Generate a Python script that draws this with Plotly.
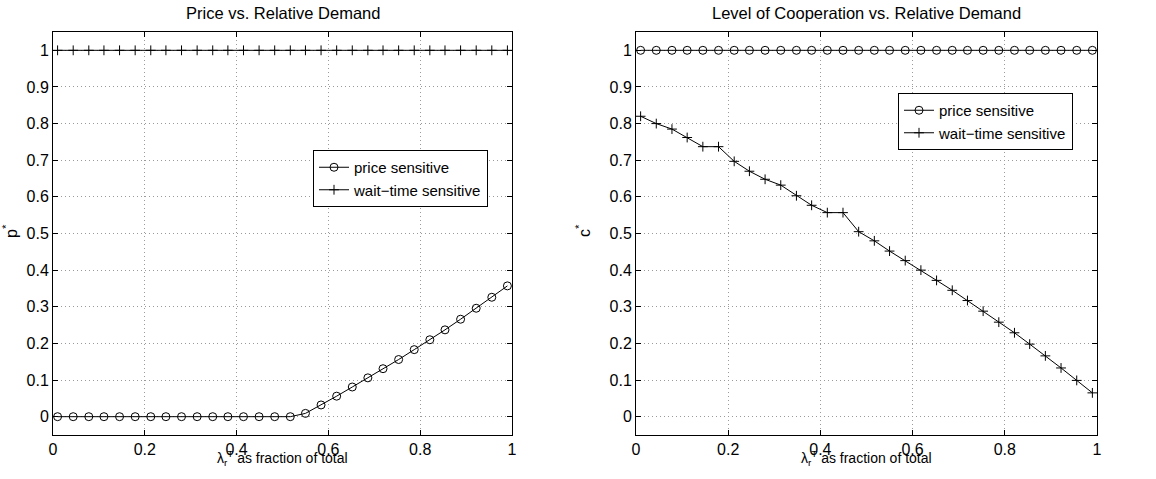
import plotly.graph_objects as go

# ---- data ----
x_frac = [0.010, 0.044, 0.078, 0.111, 0.145, 0.179, 0.213, 0.246, 0.280, 0.314,
          0.348, 0.381, 0.415, 0.449, 0.483, 0.517, 0.550, 0.584, 0.618, 0.652,
          0.686, 0.719, 0.753, 0.787, 0.821, 0.854, 0.888, 0.922, 0.956, 0.990]

p_price = [0, 0, 0, 0, 0, 0, 0, 0, 0, 0,
           0, 0, 0, 0, 0, 0, 0.009, 0.032, 0.056, 0.081,
           0.106, 0.131, 0.156, 0.183, 0.210, 0.237, 0.266, 0.296, 0.326, 0.357]
p_wait = [1.0] * 30

c_price = [1.0] * 30
c_wait = [0.820, 0.800, 0.785, 0.762, 0.737, 0.737, 0.697, 0.670, 0.648, 0.632,
          0.603, 0.577, 0.557, 0.557, 0.505, 0.480, 0.452, 0.426, 0.400, 0.372,
          0.345, 0.317, 0.288, 0.258, 0.229, 0.198, 0.166, 0.133, 0.099, 0.065]

series_names = ["price sensitive", "wait\u2212time sensitive"]
titles = ["Price vs. Relative Demand", "Level of Cooperation vs. Relative Demand"]
ylabels = ["p<sup>*</sup>", "c<sup>*</sup>"]
xlabel = "\u03bb<sub>r</sub><sup>T</sup> as fraction of total"
x_ticks = [0, 0.2, 0.4, 0.6, 0.8, 1]
x_ticktext = ["0", "0.2", "0.4", "0.6", "0.8", "1"]
y_ticks = [0, 0.1, 0.2, 0.3, 0.4, 0.5, 0.6, 0.7, 0.8, 0.9, 1]
y_ticktext = ["0", "0.1", "0.2", "0.3", "0.4", "0.5", "0.6", "0.7", "0.8", "0.9", "1"]

FONT = "Liberation Sans, Arial, Helvetica, sans-serif"
W, H = 1156, 479

fig = go.Figure()

def fx(v):
    return v / W

def fy(v):
    return 1 - v / H

# domains (pixel based, window coordinates)
left_dom_x = [fx(53), fx(512)]
right_dom_x = [fx(636), fx(1097)]
dom_y = [fy(435), fy(32)]

line_style = dict(color="black", width=1)
circ = dict(symbol="circle-open", size=8, color="black", line=dict(width=1, color="black"))
plus = dict(symbol="cross-thin-open", size=7, color="black", line=dict(width=1, color="black"))

fig.add_trace(go.Scatter(x=x_frac, y=p_price, mode="lines+markers", name=series_names[0],
                         line=line_style, marker=circ, xaxis="x", yaxis="y", legend="legend"))
fig.add_trace(go.Scatter(x=x_frac, y=p_wait, mode="lines+markers", name=series_names[1],
                         line=line_style, marker=plus, xaxis="x", yaxis="y", legend="legend"))
fig.add_trace(go.Scatter(x=x_frac, y=c_price, mode="lines+markers", name=series_names[0],
                         line=line_style, marker=circ, xaxis="x2", yaxis="y2", legend="legend2"))
fig.add_trace(go.Scatter(x=x_frac, y=c_wait, mode="lines+markers", name=series_names[1],
                         line=line_style, marker=plus, xaxis="x2", yaxis="y2", legend="legend2"))

axis_common = dict(showline=True, linecolor="black", linewidth=1, mirror="ticks",
                   ticks="inside", ticklen=5, tickcolor="black", automargin=False,
                   showgrid=True, gridcolor="#9a9a9a", griddash="1px,3px", gridwidth=1,
                   zeroline=False, tickfont=dict(family=FONT, size=16, color="black"))

legend_common = dict(xanchor="left", yanchor="top",
                     bordercolor="black", borderwidth=1, bgcolor="white",
                     font=dict(family=FONT, size=15, color="black"),
                     tracegroupgap=0, itemwidth=30)

fig.update_layout(
    width=W, height=H,
    margin=dict(l=0, r=0, t=0, b=0, autoexpand=False),
    paper_bgcolor="white", plot_bgcolor="white",
    font=dict(family=FONT, color="black"),
    xaxis=dict(domain=left_dom_x, range=[0, 1], tickvals=x_ticks, ticktext=x_ticktext,
               anchor="y", **axis_common),
    yaxis=dict(domain=dom_y, range=[-0.05, 1.05], tickvals=y_ticks, ticktext=y_ticktext,
               anchor="x", **axis_common),
    xaxis2=dict(domain=right_dom_x, range=[0, 1], tickvals=x_ticks, ticktext=x_ticktext,
                anchor="y2", **axis_common),
    yaxis2=dict(domain=dom_y, range=[-0.05, 1.05], tickvals=y_ticks, ticktext=y_ticktext,
                anchor="x2", **axis_common),
    legend=dict(x=fx(313), y=fy(150), **legend_common),
    legend2=dict(x=fx(898), y=fy(93), **legend_common),
    showlegend=True,
)

annots = []
centers = [(53 + 512) / 2, (636 + 1097) / 2]
ylab_x = [10, 583]
for i in range(2):
    annots.append(dict(text=titles[i], x=fx(centers[i]), y=fy(13),
                       xref="paper", yref="paper", showarrow=False,
                       xanchor="center", yanchor="middle",
                       font=dict(family=FONT, size=16.5, color="black")))
    annots.append(dict(text=xlabel, x=fx(centers[i]), y=fy(458),
                       xref="paper", yref="paper", showarrow=False,
                       xanchor="center", yanchor="middle",
                       font=dict(family=FONT, size=14, color="black")))
    annots.append(dict(text=ylabels[i], x=fx(ylab_x[i]), y=fy(231),
                       xref="paper", yref="paper", showarrow=False, textangle=-90,
                       xanchor="center", yanchor="middle",
                       font=dict(family=FONT, size=16, color="black")))
fig.update_layout(annotations=annots)

fig.write_html("out.html",
               config={"displayModeBar": False},
               post_script="document.body.style.margin='0';document.body.style.overflow='hidden';")
